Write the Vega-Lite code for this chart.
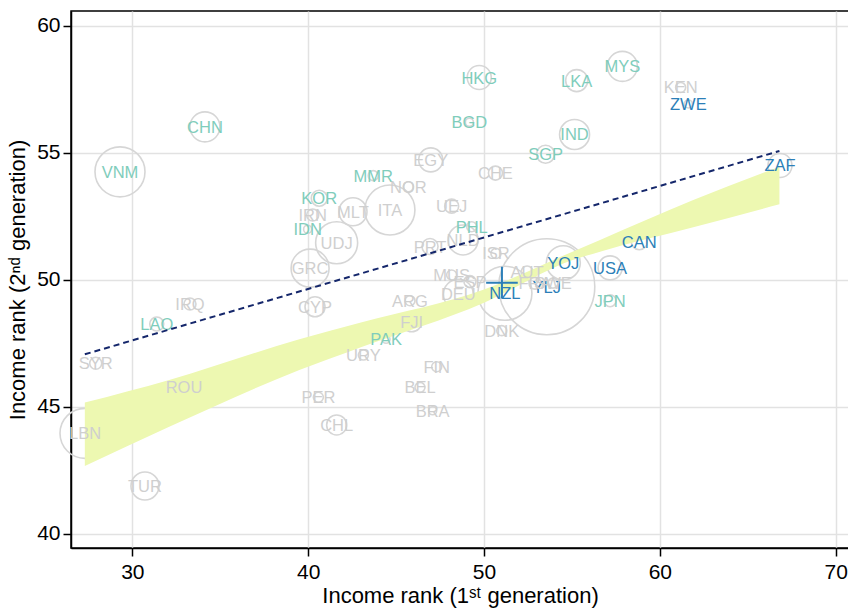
{
  "$schema": "https://vega.github.io/schema/vega-lite/v6.json",
  "width": 778,
  "height": 537,
  "autosize": {"type": "none"},
  "padding": {"left": 71, "top": 11, "right": 0, "bottom": 62},
  "background": "white",
  "config": {
    "view": {"stroke": "black", "strokeWidth": 1.5},
    "font": "Liberation Sans",
    "axis": {
      "domainColor": "black", "domainWidth": 1.5,
      "tickColor": "black", "tickWidth": 1.5, "tickSize": 8,
      "gridColor": "#e2e2e2", "gridWidth": 1.5,
      "labelFont": "Liberation Sans", "labelFontSize": 21, "labelColor": "black",
      "titleFont": "Liberation Sans", "titleFontSize": 22, "titleFontWeight": "normal", "titleColor": "black"
    }
  },
  "datasets": {
    "countries": [
      {"code": "CHN", "grp": "teal", "x": 34.13, "y": 56.02, "w": 225},
      {"code": "VNM", "grp": "teal", "x": 29.30, "y": 54.25, "w": 625},
      {"code": "HKG", "grp": "teal", "x": 49.73, "y": 57.96, "w": 144},
      {"code": "LKA", "grp": "teal", "x": 55.27, "y": 57.84, "w": 121},
      {"code": "MYS", "grp": "teal", "x": 57.87, "y": 58.40, "w": 225},
      {"code": "BGD", "grp": "teal", "x": 49.17, "y": 56.20, "w": 16},
      {"code": "IND", "grp": "teal", "x": 55.15, "y": 55.72, "w": 225},
      {"code": "SGP", "grp": "teal", "x": 53.50, "y": 54.94, "w": 81},
      {"code": "MMR", "grp": "teal", "x": 43.70, "y": 54.10, "w": 25},
      {"code": "KOR", "grp": "teal", "x": 40.63, "y": 53.21, "w": 64},
      {"code": "IDN", "grp": "teal", "x": 39.97, "y": 51.99, "w": 16},
      {"code": "PHL", "grp": "teal", "x": 49.30, "y": 52.09, "w": 25},
      {"code": "LAO", "grp": "teal", "x": 31.39, "y": 48.26, "w": 49},
      {"code": "PAK", "grp": "teal", "x": 44.43, "y": 47.66, "w": 16},
      {"code": "JPN", "grp": "teal", "x": 57.17, "y": 49.18, "w": 36},
      {"code": "ZWE", "grp": "blue", "x": 61.62, "y": 56.92, "w": 16},
      {"code": "ZAF", "grp": "blue", "x": 66.83, "y": 54.50, "w": 144},
      {"code": "CAN", "grp": "blue", "x": 58.83, "y": 51.50, "w": 64},
      {"code": "USA", "grp": "blue", "x": 57.17, "y": 50.47, "w": 144},
      {"code": "YOJ", "grp": "blue", "x": 54.51, "y": 50.67, "w": 289},
      {"code": "YLJ", "grp": "blue", "x": 53.57, "y": 49.73, "w": 2304},
      {"code": "NZL", "grp": "blue", "x": 51.19, "y": 49.47, "w": 729},
      {"code": "KEN", "grp": "grey", "x": 61.18, "y": 57.57, "w": 25},
      {"code": "EGY", "grp": "grey", "x": 46.97, "y": 54.72, "w": 144},
      {"code": "CHE", "grp": "grey", "x": 50.65, "y": 54.20, "w": 49},
      {"code": "NOR", "grp": "grey", "x": 45.70, "y": 53.66, "w": 25},
      {"code": "IRN", "grp": "grey", "x": 40.26, "y": 52.55, "w": 36},
      {"code": "UDJ", "grp": "grey", "x": 41.62, "y": 51.46, "w": 441},
      {"code": "GRC", "grp": "grey", "x": 40.11, "y": 50.46, "w": 361},
      {"code": "MLT", "grp": "grey", "x": 42.55, "y": 52.68, "w": 196},
      {"code": "ITA", "grp": "grey", "x": 44.65, "y": 52.75, "w": 625},
      {"code": "UEJ", "grp": "grey", "x": 48.16, "y": 52.90, "w": 49},
      {"code": "PRT", "grp": "grey", "x": 46.93, "y": 51.31, "w": 64},
      {"code": "NLD", "grp": "grey", "x": 48.81, "y": 51.57, "w": 225},
      {"code": "ISR", "grp": "grey", "x": 50.68, "y": 51.04, "w": 25},
      {"code": "MUS", "grp": "grey", "x": 48.16, "y": 50.19, "w": 25},
      {"code": "ESP", "grp": "grey", "x": 49.20, "y": 49.93, "w": 36},
      {"code": "DEU", "grp": "grey", "x": 48.54, "y": 49.43, "w": 225},
      {"code": "AUT", "grp": "grey", "x": 52.45, "y": 50.31, "w": 36},
      {"code": "FRA", "grp": "grey", "x": 52.90, "y": 49.87, "w": 36},
      {"code": "SWE", "grp": "grey", "x": 53.92, "y": 49.87, "w": 25},
      {"code": "DNK", "grp": "grey", "x": 51.01, "y": 48.00, "w": 25},
      {"code": "ARG", "grp": "grey", "x": 45.79, "y": 49.18, "w": 25},
      {"code": "FJI", "grp": "grey", "x": 45.89, "y": 48.35, "w": 100},
      {"code": "URY", "grp": "grey", "x": 43.14, "y": 47.04, "w": 25},
      {"code": "FIN", "grp": "grey", "x": 47.31, "y": 46.58, "w": 25},
      {"code": "BEL", "grp": "grey", "x": 46.36, "y": 45.77, "w": 25},
      {"code": "BRA", "grp": "grey", "x": 47.08, "y": 44.85, "w": 16},
      {"code": "IRQ", "grp": "grey", "x": 33.28, "y": 49.05, "w": 36},
      {"code": "CYP", "grp": "grey", "x": 40.39, "y": 48.94, "w": 100},
      {"code": "SYR", "grp": "grey", "x": 27.92, "y": 46.72, "w": 36},
      {"code": "ROU", "grp": "grey", "x": 32.94, "y": 45.79, "w": 49},
      {"code": "LBN", "grp": "grey", "x": 27.31, "y": 43.96, "w": 625},
      {"code": "TUR", "grp": "grey", "x": 30.72, "y": 41.89, "w": 196},
      {"code": "PER", "grp": "grey", "x": 40.58, "y": 45.38, "w": 25},
      {"code": "CHL", "grp": "grey", "x": 41.62, "y": 44.29, "w": 100}
    ],
    "band": [
      {"x": 27.3, "lo": 42.68, "y": 45.17},
      {"x": 32.1, "lo": 44.22, "y": 46.06},
      {"x": 39.5, "lo": 46.45, "y": 47.66},
      {"x": 43.0, "lo": 47.35, "y": 48.32},
      {"x": 50.0, "lo": 49.10, "y": 49.62},
      {"x": 55.0, "lo": 50.77, "y": 51.10},
      {"x": 56.6, "lo": 51.11, "y": 51.57},
      {"x": 61.9, "lo": 52.07, "y": 53.14},
      {"x": 66.8, "lo": 52.97, "y": 54.45}
    ],
    "fit": [
      {"x": 27.3, "y": 47.07},
      {"x": 66.8, "y": 55.07}
    ],
    "marker": [
      {"x": 51.02, "y": 49.89}
    ]
  },
  "encoding": {
    "x": {
      "field": "x", "type": "quantitative",
      "scale": {"domain": [26.514, 70.756], "nice": false, "zero": false},
      "axis": {"values": [30, 40, 50, 60, 70], "title": "Income rank (1ˢᵗ generation)", "labelPadding": 5, "titlePadding": 3, "labelFlush": false}
    },
    "y": {
      "field": "y", "type": "quantitative",
      "scale": {"domain": [39.449, 60.578], "nice": false, "zero": false},
      "axis": {"values": [40, 45, 50, 55, 60], "title": "Income rank (2ⁿᵈ generation)", "labelPadding": 3, "titlePadding": 7, "labelFlush": false}
    }
  },
  "layer": [
    {
      "data": {"name": "countries"},
      "mark": {"type": "point", "shape": "circle", "filled": false, "stroke": "#d6d6d6", "strokeWidth": 1.6, "opacity": 1},
      "encoding": {
        "size": {"field": "w", "type": "quantitative", "scale": {"type": "linear", "domain": [0, 2500], "range": [0, 10000], "zero": true}, "legend": null}
      }
    },
    {
      "data": {"name": "band"},
      "mark": {"type": "area", "color": "#edf8b1", "opacity": 1, "interpolate": "monotone"},
      "encoding": {
        "y2": {"field": "lo"}
      }
    },
    {
      "data": {"name": "countries"},
      "mark": {"type": "text", "align": "center", "baseline": "middle", "font": "Liberation Sans", "fontSize": 16.5, "dy": 1},
      "encoding": {
        "text": {"field": "code", "type": "nominal"},
        "color": {"field": "grp", "type": "nominal", "scale": {"domain": ["teal", "blue", "grey"], "range": ["#7fcdbb", "#2c7fb8", "#cfcfcf"]}, "legend": null}
      }
    },
    {
      "data": {"name": "marker"},
      "mark": {"type": "point", "shape": "M-1,0L1,0M0,-1L0,1", "filled": false, "stroke": "#2c7fb8", "strokeWidth": 2, "size": 1000, "opacity": 1},
      "encoding": {}
    },
    {
      "data": {"name": "fit"},
      "mark": {"type": "line", "color": "#15276b", "strokeWidth": 2, "strokeDash": [6, 4]},
      "encoding": {}
    }
  ]
}
